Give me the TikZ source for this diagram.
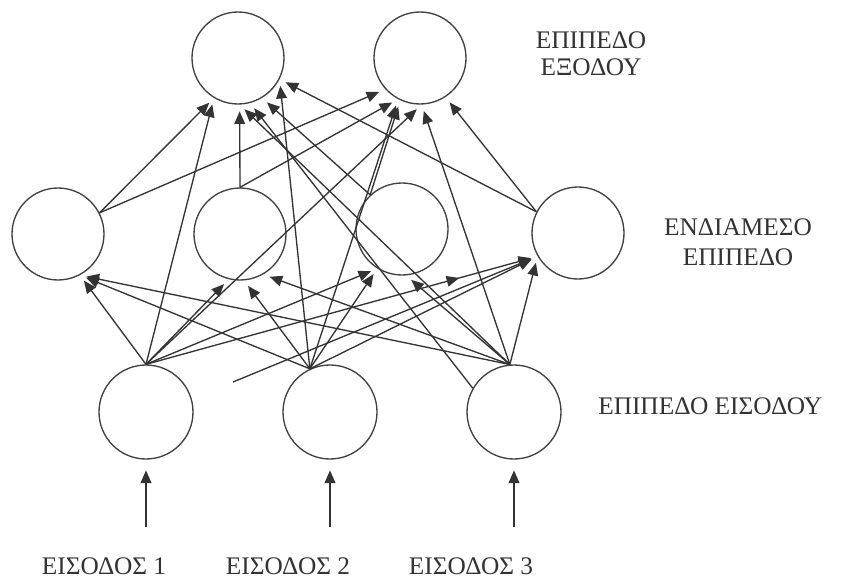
\documentclass[tikz,border=0pt]{standalone}
\usepackage{fontspec}
\setmainfont{Liberation Serif}
\usetikzlibrary{arrows.meta,decorations.markings,calc}
\begin{document}
\begin{tikzpicture}[x=0.75pt,y=-0.75pt,
  neuron/.style={circle,draw=black!75,line width=1pt,minimum size=69pt,inner sep=0pt},
  conn/.style={draw=black!80,line width=1pt,-{Triangle[length=9.5pt,width=8pt]},shorten >=5pt},
  lbl/.style={text=black!80,font=\fontsize{19}{21}\selectfont,align=center,inner sep=0pt},
  midarrow/.style={postaction={decorate},decoration={markings,mark=at position #1 with {\arrow{Triangle[length=9.5pt,width=8pt]}}}}
]
\useasboundingbox (0,0) rectangle (852,578);
\fill[white] (0,0) rectangle (852,578);

% nodes
\node[neuron] (O1) at (238,58) {};
\node[neuron] (O2) at (420,58) {};
\node[neuron] (H1) at (58,234) {};
\node[neuron] (H2) at (240,234) {};
\node[neuron] (H3) at (402,229) {};
\node[neuron] (H4) at (578,233) {};
\node[neuron,minimum size=70.5pt] (I1) at (146,412) {};
\node[neuron,minimum size=70.5pt] (I2) at (330,412) {};
\node[neuron,minimum size=70.5pt] (I3) at (514,412) {};

% labels
\node[lbl,font=\fontsize{19}{20}\selectfont] (tOut) at (591,54) {ΕΠΙΠΕΔΟ\\ΕΞΟΔΟΥ};
\node[lbl,font=\fontsize{19}{22.5}\selectfont] (tHid) at (738,242) {ΕΝΔΙΑΜΕΣΟ\\ΕΠΙΠΕΔΟ};
\node[lbl,anchor=west] (tIn) at (598,406) {ΕΠΙΠΕΔΟ ΕΙΣΟΔΟΥ};
\node[lbl] (x1) at (104,566) {ΕΙΣΟΔΟΣ 1};
\node[lbl] (x2) at (288,566) {ΕΙΣΟΔΟΣ 2};
\node[lbl] (x3) at (471,566) {ΕΙΣΟΔΟΣ 3};

% external input arrows
\coordinate (s1) at (146,527);
\coordinate (s2) at (330,527);
\coordinate (s3) at (514,527);
\draw[conn,shorten >=8pt] (s1) -- (I1);
\draw[conn,shorten >=8pt] (s2) -- (I2);
\draw[conn,shorten >=8pt] (s3) -- (I3);

% input -> hidden
\draw[conn] (I1.north) -- (H1.298);
\draw[conn] (I2.115) -- (H1.298);
\draw[conn] (I3.95) -- (H1.298);
\draw[conn] (I1.north) -- (H2.256);
\draw[conn] (I2.115) -- (H2.275);
\draw[conn] (I3.95) -- (H2.300);
\draw[conn] (I1.north) -- (H3.238);
\draw[conn] (I2.115) -- (H3.238);
\draw[conn] (I3.95) -- (H3.275);
\draw[conn,midarrow=0.8] (I1.north) -- (H4.210);
\draw[conn] (I2.115) -- (H4.210);
\draw[conn] (I3.95) -- (H4.210);
\coordinate (s0) at (233,382);
\draw[conn] (s0) -- (H4.210);

% hidden -> output
\draw[conn] (H1.27) -- (O1.239);
\draw[conn] (H1.27) -- (O2.222);
\draw[conn] (H2.north) -- (O1.272);
\draw[conn] (H2.north) -- (O2.242);
\draw[conn] (H3.133) -- (O1.301);
\draw[conn] (H3.133) -- (O2.245);
\draw[conn] (H4.153) -- (O1.333);
\draw[conn] (H4.153) -- (O2.303);

% input -> output
\draw[conn] (I1.north) -- (O1.239);
\draw[conn] (I1.north) -- (O2.272);
\draw[conn] (I2.115) -- (O1.333);
\draw[conn] (I2.115) -- (O2.242);
\draw[conn] (I3.95) -- (O1.272);
\draw[conn] (I3.150) -- (O1.285);
\draw[conn] (I3.95) -- (O2.272);
\end{tikzpicture}
\end{document}
